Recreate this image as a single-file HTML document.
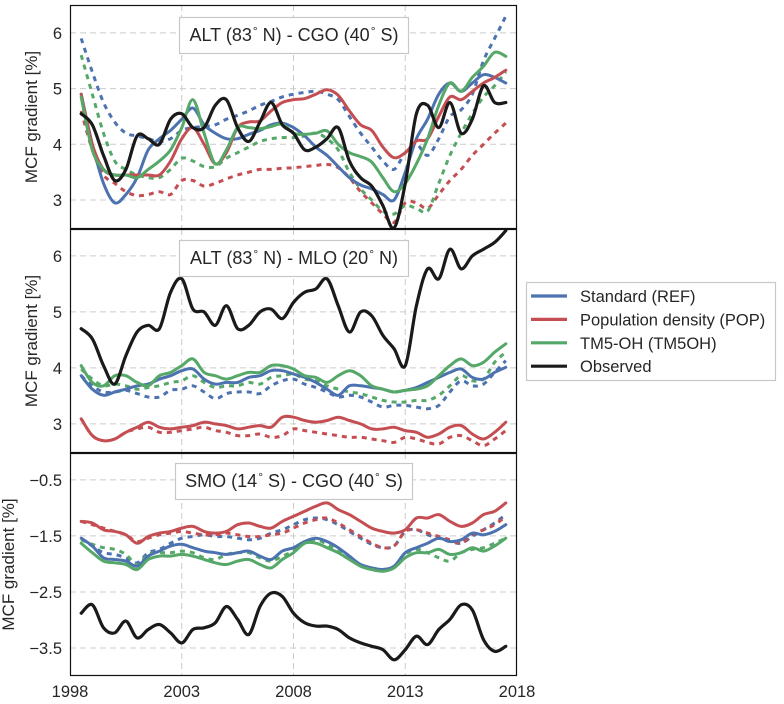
<!DOCTYPE html>
<html><head><meta charset="utf-8"><style>
html,body{margin:0;padding:0;background:#fff;}
svg{display:block;font-family:"Liberation Sans",sans-serif;}
</style></head><body>
<svg id="chart" width="784" height="704" viewBox="0 0 784 704"></svg>
<script>
// ---- data (years on 0.5-year grid) ----
const years = [];
for (let i = 0; i < 39; i++) years.push(1998.5 + 0.5 * i);
const xTicks = [1998, 2003, 2008, 2013, 2018];

// Panel 1: ALT - CGO
const p1Ref = [4.9,4.0,3.3,2.95,3.1,3.4,3.9,4.1,4.25,4.45,4.65,4.35,4.2,4.1,4.1,4.18,4.25,4.35,4.38,4.3,4.15,3.95,3.8,3.6,3.4,3.27,3.2,3.1,3.0,3.5,4.1,4.45,4.9,5.1,4.95,5.1,5.25,5.2,5.1];
const p1RefDash = [5.9,5.3,4.75,4.4,4.2,4.15,4.1,4.05,4.1,4.25,4.3,4.32,4.35,4.45,4.52,4.6,4.7,4.77,4.85,4.9,4.93,4.95,4.9,4.8,4.5,4.2,3.95,3.7,3.55,3.85,4.0,3.8,4.1,4.5,4.62,4.9,5.5,5.9,6.3];
const p1Pop = [4.9,4.0,3.55,3.45,3.45,3.45,3.45,3.45,3.7,4.1,4.3,4.0,3.65,3.85,4.3,4.4,4.42,4.6,4.75,4.8,4.82,4.9,4.98,4.88,4.6,4.35,4.25,3.95,3.76,3.85,4.06,4.1,4.5,4.85,4.8,4.95,5.1,5.2,5.33];
const p1PopDash = [4.6,3.9,3.45,3.3,3.15,3.08,3.1,3.15,3.1,3.35,3.35,3.25,3.3,3.38,3.45,3.5,3.55,3.55,3.57,3.58,3.6,3.62,3.64,3.58,3.4,3.15,2.95,2.75,2.6,2.95,2.95,2.85,3.1,3.35,3.55,3.8,4.0,4.2,4.38];
const p1Oh = [4.85,3.9,3.55,3.45,3.45,3.4,3.55,3.7,3.9,4.3,4.8,4.2,3.65,3.9,4.3,4.3,4.28,4.32,4.36,4.2,4.18,4.2,4.24,4.0,3.85,3.78,3.68,3.4,3.15,3.3,3.65,4.1,4.7,5.1,4.95,5.2,5.4,5.65,5.58];
const p1OhDash = [5.6,4.9,4.2,3.7,3.55,3.45,3.4,3.4,3.55,3.75,3.7,3.6,3.6,3.75,3.85,3.95,4.05,4.1,4.12,4.12,4.15,4.2,4.1,3.9,3.5,3.2,3.0,2.8,2.75,2.9,2.85,2.8,3.3,3.8,4.2,4.55,4.85,5.05,5.3];
const p1Obs = [4.55,4.35,3.8,3.35,3.55,4.15,4.1,4.0,4.45,4.55,4.3,4.3,4.7,4.8,4.3,4.05,4.4,4.75,4.35,4.2,3.9,3.95,4.1,4.3,3.7,3.4,3.25,2.9,2.5,3.3,4.55,4.7,4.3,4.75,4.2,4.45,5.05,4.75,4.75];

// Panel 2: ALT - MLO
const p2Ref = [3.86,3.62,3.51,3.57,3.62,3.68,3.71,3.80,3.86,3.95,3.98,3.80,3.71,3.74,3.74,3.83,3.86,3.95,3.95,3.89,3.83,3.74,3.62,3.51,3.68,3.68,3.65,3.62,3.57,3.60,3.65,3.74,3.83,3.92,3.98,3.83,3.80,3.92,4.01];
const p2RefDash = [3.86,3.68,3.57,3.57,3.60,3.54,3.48,3.48,3.60,3.62,3.68,3.57,3.45,3.54,3.57,3.57,3.54,3.68,3.77,3.80,3.71,3.65,3.57,3.48,3.51,3.48,3.39,3.30,3.33,3.33,3.30,3.27,3.33,3.57,3.77,3.68,3.71,3.92,4.13];
const p2Pop = [3.09,2.79,2.70,2.73,2.85,2.94,3.03,2.94,2.91,2.94,2.97,3.03,3.00,2.97,2.91,2.94,2.97,2.94,3.12,3.12,3.06,3.03,3.06,3.12,3.06,3.00,2.91,2.91,2.94,2.88,2.85,2.76,2.82,2.94,2.97,2.82,2.73,2.85,3.03];
const p2PopDash = [3.09,2.79,2.70,2.73,2.85,2.91,2.94,2.85,2.85,2.88,2.91,2.94,2.88,2.85,2.79,2.79,2.82,2.76,2.79,2.91,2.88,2.85,2.82,2.79,2.76,2.76,2.73,2.70,2.67,2.76,2.73,2.67,2.64,2.76,2.79,2.70,2.61,2.73,2.88];
const p2Oh = [4.04,3.74,3.68,3.86,3.86,3.74,3.68,3.86,3.92,4.04,4.16,3.92,3.86,3.80,3.86,3.92,3.92,4.04,4.04,3.98,3.86,3.83,3.74,3.86,3.95,3.86,3.68,3.62,3.57,3.60,3.62,3.68,3.86,4.04,4.16,4.04,4.10,4.28,4.43];
const p2OhDash = [3.98,3.80,3.68,3.71,3.68,3.62,3.65,3.68,3.74,3.77,3.86,3.74,3.65,3.68,3.68,3.74,3.71,3.83,3.86,3.89,3.80,3.77,3.68,3.62,3.57,3.54,3.48,3.42,3.39,3.39,3.42,3.42,3.51,3.68,3.86,3.77,3.80,4.10,4.28];
const p2Obs = [4.7,4.52,4.04,3.71,4.22,4.64,4.76,4.7,5.35,5.59,5.05,5.0,4.76,5.11,4.7,4.76,5.0,5.05,4.88,5.17,5.35,5.41,5.59,5.11,4.64,5.0,4.93,4.58,4.34,4.04,5.11,5.77,5.59,6.12,5.77,6.0,6.12,6.24,6.45];

// Panel 3: SMO - CGO
const p3Ref = [-1.54,-1.68,-1.89,-1.92,-1.95,-2.04,-1.86,-1.77,-1.68,-1.65,-1.71,-1.77,-1.80,-1.83,-1.80,-1.77,-1.86,-1.92,-1.77,-1.71,-1.60,-1.54,-1.60,-1.71,-1.86,-2.01,-2.07,-2.10,-2.04,-1.80,-1.71,-1.63,-1.54,-1.60,-1.57,-1.45,-1.48,-1.42,-1.30];
const p3RefDash = [-1.54,-1.68,-1.80,-1.83,-1.89,-1.98,-1.80,-1.74,-1.63,-1.54,-1.51,-1.48,-1.51,-1.51,-1.54,-1.57,-1.54,-1.45,-1.39,-1.30,-1.21,-1.18,-1.21,-1.30,-1.42,-1.54,-1.65,-1.71,-1.68,-1.42,-1.39,-1.48,-1.54,-1.60,-1.63,-1.51,-1.39,-1.27,-1.12];
const p3Pop = [-1.24,-1.27,-1.39,-1.42,-1.48,-1.63,-1.51,-1.45,-1.42,-1.36,-1.33,-1.42,-1.45,-1.42,-1.30,-1.27,-1.33,-1.36,-1.24,-1.15,-1.06,-0.97,-0.91,-1.03,-1.12,-1.24,-1.36,-1.42,-1.45,-1.39,-1.18,-1.18,-1.12,-1.24,-1.33,-1.27,-1.12,-1.06,-0.91];
const p3PopDash = [-1.24,-1.30,-1.36,-1.42,-1.48,-1.60,-1.54,-1.48,-1.45,-1.42,-1.45,-1.48,-1.48,-1.45,-1.48,-1.51,-1.51,-1.48,-1.45,-1.36,-1.27,-1.21,-1.18,-1.27,-1.39,-1.51,-1.63,-1.71,-1.68,-1.42,-1.39,-1.45,-1.51,-1.57,-1.63,-1.48,-1.39,-1.30,-1.15];
const p3Oh = [-1.63,-1.80,-1.95,-1.98,-2.01,-2.10,-1.92,-1.86,-1.86,-1.83,-1.86,-1.92,-1.98,-2.01,-1.95,-1.92,-2.01,-2.07,-1.92,-1.80,-1.63,-1.63,-1.71,-1.80,-1.92,-2.04,-2.10,-2.13,-2.07,-1.89,-1.80,-1.80,-1.74,-1.83,-1.80,-1.71,-1.77,-1.68,-1.54];
const p3OhDash = [-1.57,-1.65,-1.71,-1.74,-1.83,-2.01,-1.83,-1.80,-1.80,-1.77,-1.80,-1.89,-1.92,-1.83,-1.80,-1.80,-1.89,-1.95,-1.86,-1.77,-1.63,-1.57,-1.65,-1.77,-1.89,-2.01,-2.07,-2.10,-2.04,-1.83,-1.74,-1.80,-1.89,-1.95,-1.80,-1.74,-1.71,-1.63,-1.54];
const p3Obs = [-2.88,-2.73,-3.14,-3.23,-3.02,-3.32,-3.17,-3.08,-3.23,-3.41,-3.17,-3.14,-3.05,-2.76,-2.99,-3.26,-2.76,-2.52,-2.58,-2.88,-3.05,-3.11,-3.11,-3.17,-3.32,-3.41,-3.47,-3.53,-3.71,-3.53,-3.29,-3.44,-3.17,-2.99,-2.73,-2.82,-3.35,-3.56,-3.47];

const p1Ticks = [3, 4, 5, 6];
const p2Ticks = [3, 4, 5, 6];
const p3Ticks = [-3.5, -2.5, -1.5, -0.5];
const p3TickLabels = ["\u22123.5", "\u22122.5", "\u22121.5", "\u22120.5"];

const legendLabels = ["Standard (REF)", "Population density (POP)", "TM5-OH (TM5OH)", "Observed"];

// ---- drawing ----
const NS = "http://www.w3.org/2000/svg";
const svg = document.getElementById("chart");
const C = {ref:"#4C72B0", pop:"#C44E52", oh:"#55A868", obs:"#1a1a1a"};
const X0 = 70, X1 = 517;
function xScale(t){ return X0 + (t - 1998) / 20 * (X1 - X0); }
function mk(tag, attrs, parent){
  const e = document.createElementNS(NS, tag);
  for (const k in attrs) e.setAttribute(k, attrs[k]);
  (parent || svg).appendChild(e);
  return e;
}
function smoothPath(pts){
  let d = "M" + pts[0][0].toFixed(1) + "," + pts[0][1].toFixed(1);
  for (let i = 0; i < pts.length - 1; i++){
    const p0 = pts[Math.max(0,i-1)], p1 = pts[i], p2 = pts[i+1], p3 = pts[Math.min(pts.length-1,i+2)];
    const c1x = p1[0] + (p2[0]-p0[0])/6, c1y = p1[1] + (p2[1]-p0[1])/6;
    const c2x = p2[0] - (p3[0]-p1[0])/6, c2y = p2[1] - (p3[1]-p1[1])/6;
    d += "C" + c1x.toFixed(1)+","+c1y.toFixed(1)+" "+c2x.toFixed(1)+","+c2y.toFixed(1)+" "+p2[0].toFixed(1)+","+p2[1].toFixed(1);
  }
  return d;
}

const panels = [
  {key:"alt-cgo", top:5, bot:229, vmin:2.48, vmax:6.5, ticks:p1Ticks, labels:p1Ticks.map(String), title:[["ALT (83",0],["\u00B0",1],[" N) - CGO (40",0],["\u00B0",1],[" S)",0]], box:[179,17,229,36], ytx:37,
   series:[[p1RefDash,C.ref,1],[p1PopDash,C.pop,1],[p1OhDash,C.oh,1],[p1Ref,C.ref,0],[p1Pop,C.pop,0],[p1Oh,C.oh,0],[p1Obs,C.obs,0]]},
  {key:"alt-mlo", top:229, bot:453, vmin:2.48, vmax:6.48, ticks:p2Ticks, labels:p2Ticks.map(String), title:[["ALT (83",0],["\u00B0",1],[" N) - MLO (20",0],["\u00B0",1],[" N)",0]], box:[179,240,229,36], ytx:37,
   series:[[p2RefDash,C.ref,1],[p2PopDash,C.pop,1],[p2OhDash,C.oh,1],[p2Ref,C.ref,0],[p2Pop,C.pop,0],[p2Oh,C.oh,0],[p2Obs,C.obs,0]]},
  {key:"smo-cgo", top:453, bot:676, vmin:-4.0, vmax:-0.02, ticks:p3Ticks, labels:p3TickLabels, title:[["SMO (14",0],["\u00B0",1],[" S) - CGO (40",0],["\u00B0",1],[" S)",0]], box:[175,463,237,36], ytx:14,
   series:[[p3RefDash,C.ref,1],[p3PopDash,C.pop,1],[p3OhDash,C.oh,1],[p3Ref,C.ref,0],[p3Pop,C.pop,0],[p3Oh,C.oh,0],[p3Obs,C.obs,0]]}
];
const seriesNames = ["ref-dashed","pop-dashed","tm5oh-dashed","ref","pop","tm5oh","observed"];

const defs = mk("defs", {});
panels.forEach((p, pi) => {
  const g = mk("g", {});
  
  
  const yScale = v => p.bot - (v - p.vmin) / (p.vmax - p.vmin) * (p.bot - p.top);
  const cp = mk("clipPath", {id:"clip"+pi}, defs);
  mk("rect", {x:X0, y:p.top, width:X1-X0, height:p.bot-p.top}, cp);
  xTicks.slice(1,-1).forEach(t => {
    const l = mk("line", {x1:xScale(t), x2:xScale(t), y1:p.top, y2:p.bot, stroke:"#cccccc", "stroke-width":1, "stroke-dasharray":"6,4"}, g);
    
    
  });
  p.ticks.forEach((v, i) => {
    const y = yScale(v);
    const l = mk("line", {x1:X0, x2:X1, y1:y, y2:y, stroke:"#cccccc", "stroke-width":1, "stroke-dasharray":"6,4"}, g);
    
    
    const tx = mk("text", {x:62, y:y+6, "text-anchor":"end", "font-size":16.5, fill:"#262626"}, g);
    tx.textContent = p.labels[i];
    
    
  });
  const sg = mk("g", {"clip-path":"url(#clip"+pi+")"}, g);
  p.series.forEach((s, si) => {
    const pts = years.map((t, i) => [xScale(t), yScale(s[0][i])]);
    const path = mk("path", {d:smoothPath(pts), fill:"none", stroke:s[1], "stroke-width": si===6?3.2:3, "stroke-linejoin":"round", "stroke-linecap": s[2]?"butt":"round"}, sg);
    if (s[2]) path.setAttribute("stroke-dasharray", "5,5");
    
    
  });
  const fr = mk("rect", {x:X0+0.5, y:p.top+0.5, width:X1-X0-1, height:p.bot-p.top-1, fill:"none", stroke:"#111", "stroke-width":1.2}, g);
  
  
  const b = p.box;
  const br = mk("rect", {x:b[0]+0.5, y:b[1]+0.5, width:b[2], height:b[3], fill:"#fff", stroke:"#c8c8c8", "stroke-width":1.2}, g);
  
  
  const tt = mk("text", {x:b[0]+b[2]/2+0.5, y:b[1]+24, "text-anchor":"middle", "font-size":18, fill:"#262626"}, g);
  p.title.forEach(part => {
    const ts = mk("tspan", part[1] ? {"font-size":12, dy:-6} : {dy: 0}, tt);
    ts.textContent = part[0];
    if (part[1]) { ts.setAttribute("dx", "1"); }
  });
  // reset baseline after superscripts
  const spans = tt.querySelectorAll("tspan");
  spans.forEach((s, k) => { if (k > 0 && !p.title[k][1] && p.title[k-1][1]) s.setAttribute("dy", 6); });
  
  
  const yt = mk("text", {x:0, y:0, "text-anchor":"middle", "font-size":17, fill:"#262626", transform:"translate("+p.ytx+","+((p.top+p.bot)/2)+") rotate(-90)"}, g);
  yt.textContent = "MCF gradient [%]";
  
  
});
xTicks.forEach(t => {
  const tx = mk("text", {x:xScale(t), y:697, "text-anchor":"middle", "font-size":16.5, fill:"#262626"});
  tx.textContent = String(t);
  
  
});
const lg = mk("g", {});


mk("rect", {x:526.5, y:282.5, width:249, height:98, fill:"#fff", stroke:"#c8c8c8", "stroke-width":1.2}, lg);
const legendColors = [C.ref, C.pop, C.oh, C.obs];
legendLabels.forEach((lab, i) => {
  const y = 296 + i * 23.4;
  const e = mk("g", {}, lg);
  
  
  mk("line", {x1:531, x2:567, y1:y, y2:y, stroke:legendColors[i], "stroke-width":3.2}, e);
  const tx = mk("text", {x:580, y:y+6, "font-size":16.5, fill:"#262626"}, e);
  tx.textContent = lab;
});
</script>
</body></html>
